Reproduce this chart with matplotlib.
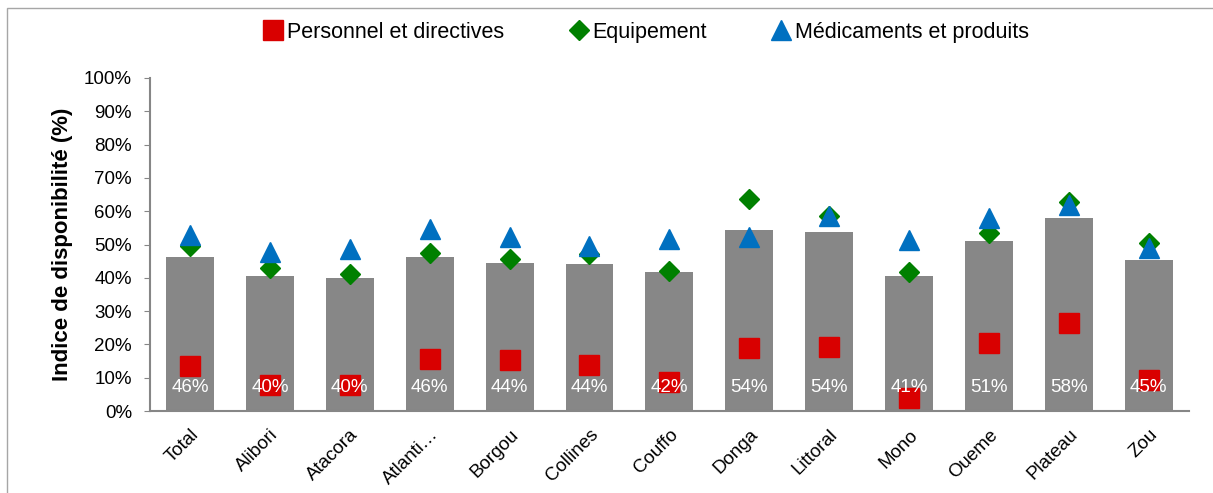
import matplotlib.pyplot as plt
from matplotlib.patches import Rectangle
import numpy as np

plt.rcParams['font.family'] = ['Liberation Sans', 'DejaVu Sans']

regions = ['Total', 'Alibori', 'Atacora', 'Atlanti…', 'Borgou', 'Collines', 'Couffo',
           'Donga', 'Littoral', 'Mono', 'Oueme', 'Plateau', 'Zou']
# indice global (barres), en %
indice = [46.3, 40.4, 39.8, 46.2, 44.3, 44.0, 41.6, 54.4, 53.9, 40.6, 51.2, 58.1, 45.2]
personnel = [13.4, 7.7, 7.9, 15.6, 15.4, 13.8, 8.8, 18.9, 19.1, 3.8, 20.3, 26.3, 9.2]
equipement = [49.6, 42.9, 41.1, 47.4, 45.6, 47.1, 42.1, 63.8, 58.6, 41.6, 53.6, 62.9, 50.6]
medicaments = [52.8, 47.6, 48.6, 54.7, 52.4, 49.6, 51.8, 52.2, 58.6, 51.5, 58.0, 61.8, 49.0]

x = np.arange(len(regions))

fig = plt.figure(figsize=(12.13, 4.93), dpi=100)
ax = fig.add_axes([0.1237, 0.1663, 0.8563, 0.6755])

# cadre du graphique
fig.patches.append(Rectangle((7 / 1213, -0.01), 1.0, 1 - 8 / 493 + 0.01, transform=fig.transFigure,
                             fill=False, edgecolor='#a6a6a6', linewidth=1.0))

ax.bar(x, indice, width=0.6, color='#878787', zorder=1)
ax.plot(x, personnel, 's', color='#d90000', markersize=14.5, linestyle='none', zorder=2,
        label='Personnel et directives')
ax.plot(x, equipement, 'D', color='#008000', markersize=10.2, linestyle='none', zorder=3,
        label='Equipement')
ax.plot(x, medicaments, '^', color='#0070c0', markersize=14.5, linestyle='none', zorder=4,
        label='Médicaments et produits')

for xi, v in zip(x, indice):
    ax.text(xi, 7, '%d%%' % round(v), color='white', ha='center', va='center',
            fontsize=13.5, zorder=5)

ax.set_xlim(-0.5, len(regions) - 0.5)
ax.set_ylim(0, 100)
ax.set_yticks(np.arange(0, 101, 10))
ax.set_yticklabels(['%d%%' % t for t in range(0, 101, 10)], fontsize=13.5)
ax.set_xticks(x)
ax.set_xticklabels(regions, rotation=45, ha='right', rotation_mode='anchor', fontsize=13.5)
ax.tick_params(axis='x', length=0, pad=11)
ax.tick_params(axis='y', length=4, color='#868686', pad=9)
ax.set_ylabel('Indice de disponibilité (%)', fontsize=16, fontweight='bold', labelpad=8)

for s in ['top', 'right']:
    ax.spines[s].set_visible(False)
for s in ['left', 'bottom']:
    ax.spines[s].set_color('#868686')
    ax.spines[s].set_linewidth(1.5)

fig.legend(loc='center', bbox_to_anchor=(0.532, 0.935), ncol=3, frameon=False,
           fontsize=15.5, handletextpad=0.1, columnspacing=2.9, handlelength=1.1)

fig.savefig('out.png', dpi=100)
